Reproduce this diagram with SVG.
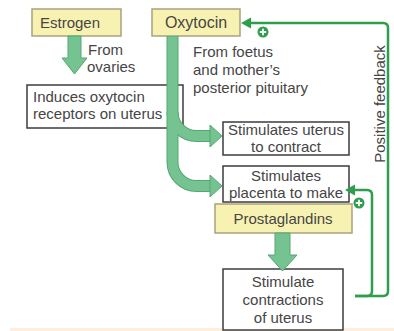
<svg xmlns="http://www.w3.org/2000/svg" width="394" height="331" viewBox="0 0 394 331">
<defs>
<style>
text{font-family:"Liberation Sans",Arial,sans-serif;font-size:15px;fill:#454545}
.c{text-anchor:middle}
.box{fill:#ffffff;stroke:#3c3c3c;stroke-width:1.5}
.ybox{fill:#f8f2b2;stroke:#a9a37c;stroke-width:1.5}
.arr{fill:#74c390;stroke:#56a773;stroke-width:1}
.shO{fill:none;stroke:#56a773;stroke-width:12}
.shI{fill:none;stroke:#74c390;stroke-width:10}
.fb{fill:none;stroke:#2e9e4c;stroke-width:2.5}
.pc{fill:#2e9e4c}
.pl{stroke:#ffffff;stroke-width:1.8}
</style>
</defs>
<rect width="394" height="331" fill="#ffffff"/>
<rect x="10" y="328" width="384" height="3" fill="#fdeedd"/>

<g id="estrogen">
<rect class="ybox" x="32" y="9" width="89" height="27"/>
<text x="40" y="28">Estrogen</text>
</g>
<g id="oxytocin">
<rect class="ybox" x="152" y="9" width="88" height="27"/>
<text x="196" y="28" class="c" style="font-size:16px">Oxytocin</text>
</g>
<g id="induces">
<rect class="box" x="27" y="85" width="156" height="43"/>
<text x="33" y="102">Induces oxytocin</text>
<text x="33" y="119">receptors on uterus</text>
</g>
<g id="uterus-contract">
<rect class="box" x="223" y="122" width="126" height="33"/>
<text x="286" y="135" class="c">Stimulates uterus</text>
<text x="286" y="152" class="c">to contract</text>
</g>
<g id="placenta">
<rect class="box" x="223" y="166" width="126" height="36"/>
<text x="286" y="181" class="c">Stimulates</text>
<text x="286" y="198" class="c">placenta to make</text>
</g>
<g id="prostaglandins">
<rect class="ybox" x="215" y="204" width="137" height="29"/>
<text x="283" y="224" class="c">Prostaglandins</text>
</g>
<g id="contractions">
<rect class="box" x="223" y="269" width="120" height="61"/>
<text x="283" y="287" class="c">Stimulate</text>
<text x="283" y="305" class="c">contractions</text>
<text x="283" y="323" class="c">of uterus</text>
</g>

<g id="labels">
<text x="88" y="55">From</text>
<text x="87" y="72">ovaries</text>
<text x="193" y="57">From foetus</text>
<text x="193" y="75">and mother’s</text>
<text x="193" y="93">posterior pituitary</text>
<text transform="translate(385,104) rotate(-90)" class="c">Positive feedback</text>
</g>

<g id="connectors">
<polygon class="arr" points="68,36 81,36 81,58 87,58 74.5,74 62,58 68,58"/>
<path class="shO" d="M172.5,36 V162 A24,24 0 0 0 196.5,186 H211"/>
<path class="shO" d="M172.5,112 A24,24 0 0 0 196.5,136 H211"/>
<path class="shI" d="M172.5,36.5 V162 A24,24 0 0 0 196.5,186 H211"/>
<path class="shI" d="M172.5,112 A24,24 0 0 0 196.5,136 H211"/>
<polygon class="arr" points="210,125 222,136 210,147"/>
<polygon class="arr" points="210,175 222,186 210,197"/>
<polygon class="arr" points="275,233 290,233 290,255 297,255 282.5,271 268,255 275,255"/>
<path class="fb" d="M355,296 H383 Q388,296 388,291 V28 Q388,23 383,23 H249"/>
<polygon class="pc" points="241,23 251,17.5 251,28.5"/>
<path class="fb" d="M355,296 H367 Q372,296 372,291 V195 Q372,190 367,190 H353"/>
<polygon class="pc" points="345,190 355,184.5 355,195.5"/>
<g id="plus1">
<circle class="pc" cx="263" cy="32" r="5.5"/>
<path class="pl" d="M259.8,32 H266.2 M263,28.8 V35.2"/>
</g>
<g id="plus2">
<circle class="pc" cx="359" cy="203" r="5.5"/>
<path class="pl" d="M355.8,203 H362.2 M359,199.8 V206.2"/>
</g>
</g>
</svg>
